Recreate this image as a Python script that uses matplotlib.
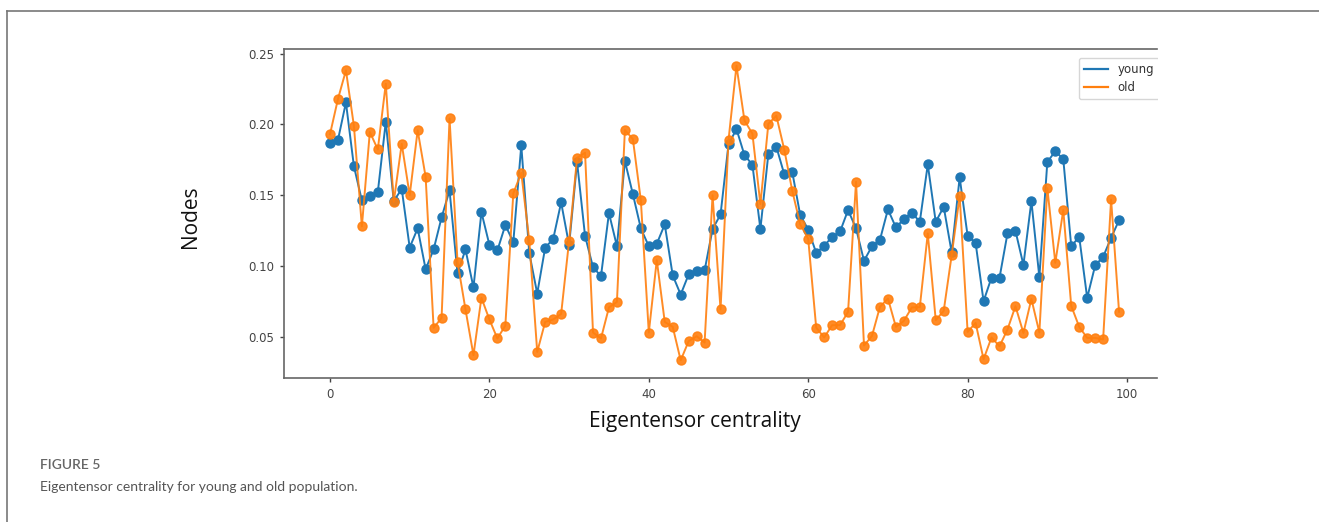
import matplotlib
matplotlib.use("Agg")
import matplotlib.pyplot as plt
from matplotlib.lines import Line2D
from matplotlib.patches import Rectangle
import numpy as np

x = list(range(100))
young = [0.187, 0.189, 0.2155, 0.1705, 0.1463, 0.1494, 0.1522, 0.2018, 0.1458, 0.1545,
         0.1131, 0.1266, 0.0978, 0.1117, 0.1343, 0.1534, 0.0948, 0.1117, 0.0849, 0.138,
         0.115, 0.111, 0.1289, 0.1169, 0.1852, 0.1093, 0.0806, 0.1131, 0.119, 0.1449,
         0.1148, 0.1734, 0.1213, 0.0992, 0.0929, 0.1374, 0.114, 0.1741, 0.1508, 0.1266,
         0.114, 0.1157, 0.1294, 0.0934, 0.0799, 0.0941, 0.0964, 0.0969, 0.1261, 0.1364,
         0.1859, 0.1967, 0.1783, 0.1715, 0.1261, 0.1792, 0.1842, 0.1647, 0.1663, 0.1359,
         0.1258, 0.1093, 0.1143, 0.1206, 0.1244, 0.1395, 0.1266, 0.1037, 0.114, 0.1185,
         0.14, 0.1273, 0.1331, 0.1378, 0.1312, 0.1717, 0.1312, 0.1418, 0.1096, 0.1626,
         0.1213, 0.1164, 0.0752, 0.0919, 0.0917, 0.123, 0.1249, 0.1008, 0.1458, 0.0922,
         0.1734, 0.1811, 0.1755, 0.114, 0.1206, 0.0776, 0.1004, 0.1065, 0.1199, 0.1324]
old = [0.193, 0.2179, 0.2381, 0.199, 0.128, 0.1946, 0.1823, 0.2287, 0.1453, 0.1863,
       0.15, 0.1958, 0.163, 0.0564, 0.0634, 0.2042, 0.103, 0.0694, 0.0371, 0.0776,
       0.0623, 0.0489, 0.058, 0.1513, 0.1658, 0.1183, 0.0394, 0.0606, 0.0623, 0.0662,
       0.1178, 0.1764, 0.18, 0.0531, 0.0489, 0.0708, 0.0747, 0.196, 0.1896, 0.1465,
       0.0531, 0.1042, 0.0606, 0.0571, 0.0335, 0.047, 0.0505, 0.046, 0.15, 0.0694,
       0.1889, 0.2414, 0.2028, 0.1934, 0.1437, 0.2004, 0.2061, 0.1821, 0.1531, 0.1294,
       0.1192, 0.0566, 0.0496, 0.0583, 0.0583, 0.0677, 0.1595, 0.0439, 0.0507, 0.0712,
       0.0771, 0.0571, 0.0613, 0.0708, 0.071, 0.123, 0.0618, 0.0684, 0.1077, 0.1494,
       0.0535, 0.0599, 0.0343, 0.0496, 0.0434, 0.0552, 0.0717, 0.0528, 0.0768, 0.0531,
       0.155, 0.1023, 0.1395, 0.0719, 0.0571, 0.0493, 0.0493, 0.0482, 0.147, 0.0677]
xticks = [0, 20, 40, 60, 80, 100]
yticks = [0.05, 0.10, 0.15, 0.20, 0.25]
series_names = ["young", "old"]

W, H = 1319, 522
fig = plt.figure(figsize=(W / 100, H / 100), dpi=100)

def fx(px):
    return px / W

def fy(py):
    return 1 - py / H

ax = fig.add_axes([fx(284), fy(378), fx(1157) - fx(284), fy(49) - fy(378)])

blue = "#1f77b4"
orange = "#ff7f0e"
ax.plot(x, young, color=blue, lw=1.4, marker="o", ms=6.5, label=series_names[0])
ax.plot(x, old, color=orange, lw=1.4, marker="o", ms=6.5, label=series_names[1], alpha=0.9)

ax.set_xlim(-5.77, 103.76)
ax.set_ylim(0.021, 0.2532)
ax.set_xticks(xticks)
ax.set_xticklabels([str(t) for t in xticks])
ax.set_yticks(yticks)
ax.set_yticklabels([f"{t:.2f}" for t in yticks])
ax.tick_params(labelsize=8.5, colors="#444444", length=3, width=1, pad=4)
for s in ["left", "bottom", "top"]:
    ax.spines[s].set_color("#666666")
    ax.spines[s].set_linewidth(1.2)
ax.spines["right"].set_visible(False)

handles = [Line2D([], [], color=blue, lw=1.6), Line2D([], [], color=orange, lw=1.6)]
leg = ax.legend(handles, series_names, loc="upper left",
                bbox_to_anchor=((1073 - 284) / 873, (378 - 52) / 329),
                fontsize=8.5, frameon=True, handlelength=2.0, handletextpad=0.8,
                borderpad=0.45, labelspacing=0.4, fancybox=True)
leg.get_frame().set_edgecolor("#cccccc")
for t in leg.get_texts():
    t.set_color("#333333")

# mask right of crop (the reference image is cropped at the axes right edge)
fig.patches.append(Rectangle((fx(1158), fy(105)), 1 - fx(1158), fy(50) - fy(105),
                             transform=fig.transFigure, facecolor="white",
                             edgecolor="none", zorder=10))

fig.text(fx(190), fy(217), "Nodes", rotation=90, ha="center", va="center",
         fontsize=15, family="Open Sans", color="#111111")
fig.text(fx(695), fy(421), "Eigentensor centrality", ha="center", va="center",
         fontsize=15, family="Open Sans", color="#111111")

fig.text(fx(40), fy(465), "FIGURE 5", ha="left", va="center", fontsize=10,
         family="Lato", color="#666666", weight="semibold")
fig.text(fx(40), fy(487), "Eigentensor centrality for young and old population.",
         ha="left", va="center", fontsize=10, family="Lato", color="#555555",
         weight="normal")

# outer figure frame (cropped at right and bottom)
fig.add_artist(Line2D([fx(7), fx(7)], [fy(11), 0], transform=fig.transFigure,
                      color="#777777", lw=1.2))
fig.add_artist(Line2D([fx(7), 1], [fy(11), fy(11)], transform=fig.transFigure,
                      color="#777777", lw=1.2))

fig.savefig("out.png", dpi=100)
